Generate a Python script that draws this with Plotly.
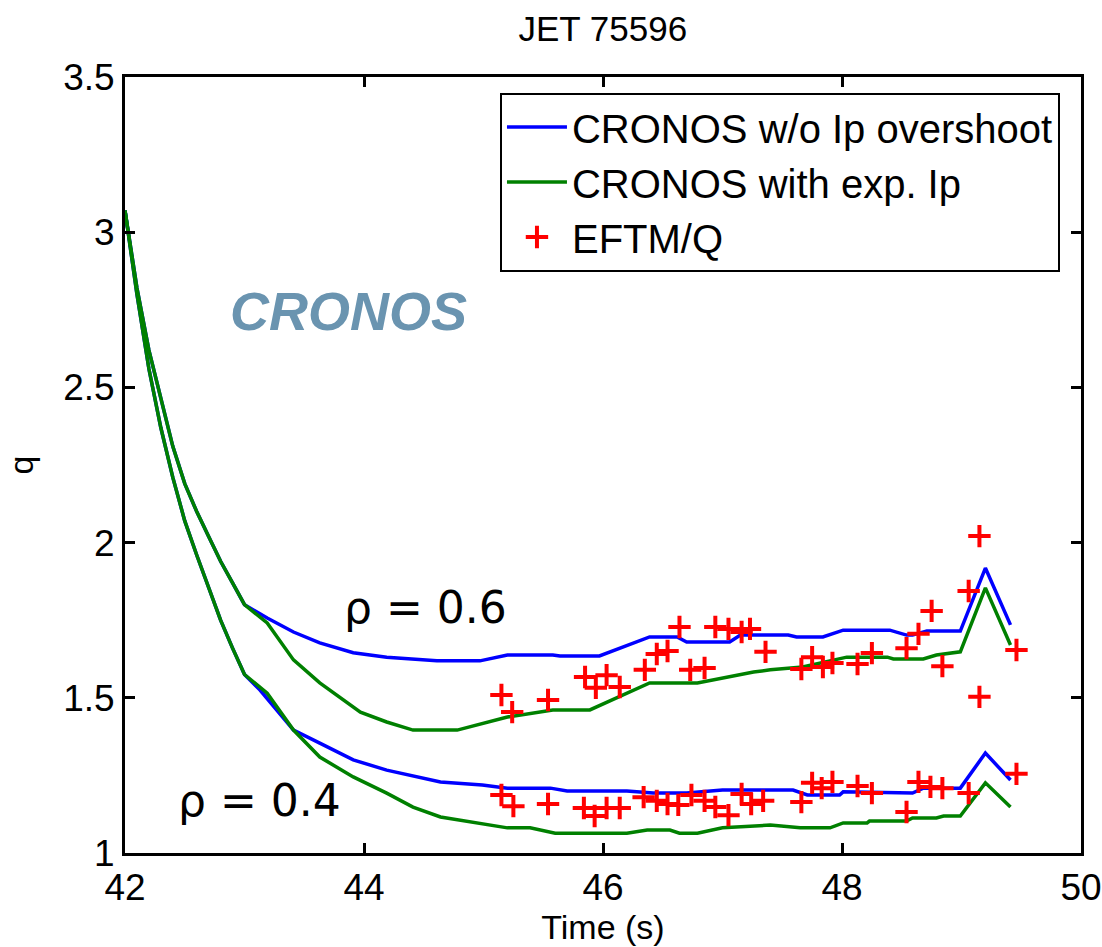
import plotly.graph_objects as go

# ---- data ----
t_start = [42.0, 42.1, 42.2, 42.3, 42.4, 42.5, 42.6, 42.7, 42.8, 42.9, 43.0]
q06_start = [3.07, 2.82, 2.62, 2.46, 2.31, 2.19, 2.10, 2.02, 1.94, 1.87, 1.80]
q04_start = [3.07, 2.80, 2.56, 2.37, 2.21, 2.07, 1.96, 1.855, 1.75, 1.66, 1.575]

t_blue06 = t_start + [43.19, 43.41, 43.63, 43.91, 44.19, 44.61, 44.97, 45.20, 45.58, 45.64, 45.97,
                      46.39, 46.62, 46.70, 47.06, 47.15, 47.55, 47.62, 47.84, 48.01, 48.40, 48.54,
                      48.59, 48.71, 48.99, 49.20, 49.41]
q_blue06 = q06_start + [1.757, 1.712, 1.677, 1.645, 1.631, 1.619, 1.619, 1.638, 1.638, 1.635, 1.635,
                        1.696, 1.696, 1.680, 1.680, 1.702, 1.702, 1.696, 1.696, 1.718, 1.718, 1.702,
                        1.702, 1.715, 1.715, 1.918, 1.735]

t_green06 = t_start + [43.19, 43.41, 43.63, 43.97, 44.19, 44.41, 44.78, 45.20, 45.58, 45.89, 46.39,
                       46.79, 47.26, 47.40, 47.67, 48.04, 48.38, 48.43, 48.68, 48.79, 48.99, 49.20, 49.41]
q_green06 = q06_start + [1.741, 1.622, 1.548, 1.454, 1.422, 1.396, 1.396, 1.438, 1.461, 1.461, 1.548,
                         1.548, 1.583, 1.590, 1.599, 1.631, 1.631, 1.625, 1.625, 1.638, 1.648, 1.854, 1.670]

t_blue04 = t_start + [43.13, 43.41, 43.63, 43.91, 44.19, 44.64, 44.99, 45.20, 45.56, 45.70, 46.20,
                      46.42, 46.70, 47.00, 47.59, 47.71, 47.98, 48.01, 48.59, 48.68, 48.99, 49.20, 49.41]
q_blue04 = q04_start + [1.525, 1.396, 1.354, 1.300, 1.267, 1.229, 1.219, 1.209, 1.209, 1.200, 1.200,
                        1.193, 1.193, 1.203, 1.203, 1.187, 1.187, 1.197, 1.193, 1.209, 1.209, 1.322, 1.235]

t_green04 = t_start + [43.19, 43.41, 43.63, 43.91, 44.19, 44.41, 44.64, 44.91, 45.20, 45.39, 45.60,
                       46.20, 46.37, 46.56, 46.64, 46.79, 47.00, 47.40, 47.65, 47.90, 48.01, 48.21,
                       48.23, 48.54, 48.59, 48.79, 48.85, 48.99, 49.20, 49.41]
q_green04 = q04_start + [1.515, 1.396, 1.309, 1.245, 1.193, 1.148, 1.116, 1.100, 1.081, 1.081, 1.064,
                         1.064, 1.074, 1.074, 1.064, 1.064, 1.081, 1.090, 1.081, 1.081, 1.097, 1.097,
                         1.103, 1.103, 1.113, 1.113, 1.119, 1.119, 1.226, 1.148]

t_eftm06 = [45.15, 45.24, 45.54, 45.85, 45.94, 46.03, 46.14, 46.35, 46.45, 46.54, 46.64, 46.73,
            46.85, 46.94, 47.05, 47.16, 47.23, 47.36, 47.66, 47.75, 47.84, 47.92, 48.13, 48.25,
            48.54, 48.64, 48.75, 48.84, 49.06, 49.15, 49.15, 49.46]
q_eftm06 = [1.509, 1.454, 1.493, 1.567, 1.532, 1.573, 1.535, 1.590, 1.641, 1.651, 1.728, 1.590,
            1.596, 1.728, 1.722, 1.712, 1.722, 1.648, 1.593, 1.631, 1.599, 1.612, 1.609, 1.644,
            1.660, 1.706, 1.780, 1.602, 1.844, 2.021, 1.503, 1.654]

t_eftm04 = [45.15, 45.25, 45.54, 45.84, 45.93, 46.03, 46.14, 46.34, 46.45, 46.54, 46.63, 46.74,
            46.85, 46.94, 47.05, 47.16, 47.24, 47.34, 47.66, 47.75, 47.83, 47.92, 48.13, 48.25,
            48.54, 48.64, 48.74, 48.84, 49.06, 49.46]
q_eftm04 = [1.187, 1.151, 1.158, 1.145, 1.119, 1.145, 1.145, 1.180, 1.168, 1.158, 1.155, 1.187,
            1.168, 1.148, 1.122, 1.190, 1.158, 1.168, 1.164, 1.226, 1.209, 1.229, 1.216, 1.193,
            1.132, 1.229, 1.213, 1.209, 1.193, 1.255]

x_ticks = [42, 44, 46, 48, 50]
y_ticks = [1, 1.5, 2, 2.5, 3, 3.5]

FONT = "Liberation Sans, Arial, sans-serif"
BLUE = "#0000ff"
GREEN = "#008000"

fig = go.Figure()
fig.add_trace(go.Scatter(x=t_blue06, y=q_blue06, mode="lines", line=dict(color=BLUE, width=3.5),
                         name="CRONOS w/o Ip overshoot", legendgroup="a"))
fig.add_trace(go.Scatter(x=t_blue04, y=q_blue04, mode="lines", line=dict(color=BLUE, width=3.5),
                         showlegend=False, legendgroup="a"))
fig.add_trace(go.Scatter(x=t_green06, y=q_green06, mode="lines", line=dict(color=GREEN, width=3.5),
                         name="CRONOS with exp. Ip", legendgroup="b"))
fig.add_trace(go.Scatter(x=t_green04, y=q_green04, mode="lines", line=dict(color=GREEN, width=3.5),
                         showlegend=False, legendgroup="b"))
fig.add_trace(go.Scatter(x=t_eftm06 + t_eftm04, y=q_eftm06 + q_eftm04, mode="markers",
                         marker=dict(symbol="cross-thin", size=16, color="red",
                                     line=dict(width=4, color="red")),
                         name="EFTM/Q", legendgroup="c"))

fig.add_annotation(x=43.82, y=1.79, text="ρ = 0.6", showarrow=False, xanchor="left", yanchor="middle",
                   font=dict(family="DejaVu Sans", size=44, color="black"))
fig.add_annotation(x=42.43, y=1.17, text="ρ = 0.4", showarrow=False, xanchor="left", yanchor="middle",
                   font=dict(family="DejaVu Sans", size=44, color="black"))
fig.add_annotation(x=43.87, y=2.745, text="<b><i>CRONOS</i></b>", showarrow=False, xanchor="center",
                   yanchor="middle", font=dict(family=FONT, size=54, color="#6a94b0"))

fig.update_layout(
    width=1102, height=947,
    margin=dict(l=125, r=21, t=77, b=94),
    paper_bgcolor="white", plot_bgcolor="white",
    title=dict(text="JET 75596", x=0.547, xanchor="center", y=0.97, yanchor="middle",
               font=dict(family=FONT, size=35, color="black")),
    font=dict(family=FONT, size=34, color="black"),
    showlegend=True,
    legend=dict(x=0.978, y=0.98, xanchor="right", yanchor="top",
                bgcolor="white", bordercolor="black", borderwidth=2,
                font=dict(family=FONT, size=40, color="black"),
                traceorder="normal", itemwidth=60),
)
fig.update_xaxes(range=[42, 50], tickvals=x_ticks, ticks="inside", ticklen=10, tickwidth=2.5,
                 tickcolor="black", showline=True, linecolor="black", linewidth=3, mirror="ticks",
                 showgrid=False, zeroline=False, automargin=False,
                 title=dict(text="Time (s)", standoff=2, font=dict(family=FONT, size=34)),
                 tickfont=dict(family=FONT, size=37))
fig.update_yaxes(range=[1, 3.5], tickvals=y_ticks, ticks="inside", ticklen=10, tickwidth=2.5,
                 tickcolor="black", showline=True, linecolor="black", linewidth=3, mirror="ticks",
                 showgrid=False, zeroline=False, automargin=False,
                 title=dict(text="q", standoff=20, font=dict(family=FONT, size=34)),
                 tickfont=dict(family=FONT, size=37))

fig.write_html("out.html")
